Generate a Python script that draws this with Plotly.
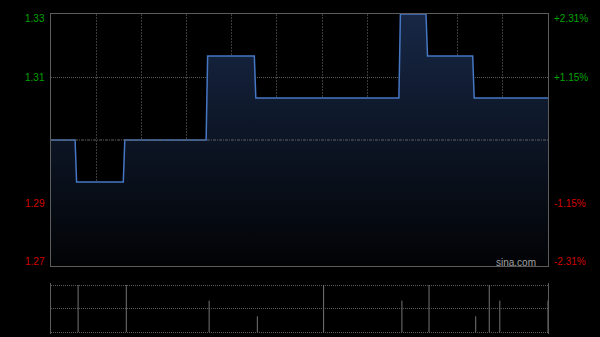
import plotly.graph_objects as go

# ---- data ----
prev_close = 1.30
session_minutes = 330
trade_min = [18, 50, 105, 137, 181, 233, 251, 282, 291, 298, 330]
trade_price = [1.29, 1.30, 1.32, 1.31, 1.31, 1.33, 1.32, 1.31, 1.31, 1.31, 1.31]
trade_vol = [30, 30, 20, 10, 30, 20, 30, 10, 30, 20, 20]
left_tick_text = ["1.33", "1.31", "1.29", "1.27"]
right_tick_text = ["+2.31%", "+1.15%", "-1.15%", "-2.31%"]
tick_colors = ["#00a400", "#00a400", "#d40000", "#d40000"]

# build price line (step with one-minute transition)
px, py = [0], [prev_close]
cur = prev_close
for t, p in zip(trade_min, trade_price):
    if p != cur:
        px += [t - 2, t - 1]
        py += [cur, p]
        cur = p
px.append(session_minutes)
py.append(cur)

vx, vy = [], []
for t, v in zip(trade_min, trade_vol):
    vx += [t, t, None]
    vy += [0, v, None]

fig = go.Figure()
fig.add_trace(go.Scatter(
    x=px, y=py, mode="lines", line=dict(color="#4677c4", width=1.5),
    fill="tozeroy",
    fillgradient=dict(type="vertical", start=1.27, stop=1.33,
                      colorscale=[[0, "#020305"], [1, "#172745"]]),
    hoverinfo="skip", xaxis="x", yaxis="y"))
fig.add_trace(go.Scatter(
    x=[0, session_minutes], y=[prev_close, prev_close], mode="lines",
    line=dict(color="#606060", width=1, dash="3px,1px,1px,1px"), hoverinfo="skip",
    xaxis="x", yaxis="y"))
fig.add_trace(go.Scatter(
    x=vx, y=vy, mode="lines", line=dict(color="#747474", width=1),
    hoverinfo="skip", xaxis="x2", yaxis="y2"))

W, H = 600, 337
x0, x1 = 51 / W, 548 / W
main_dom = [1 - 266 / H, 1 - 14 / H]
vol_top_px, vol_bot_px, pad_px = 285, 332, 2
vol_dom = [1 - (vol_bot_px + pad_px) / H, 1 - (vol_top_px - pad_px) / H]
vmax = 30
upp = vmax / (vol_bot_px - vol_top_px)
vol_range = [-pad_px * upp, vmax + pad_px * upp]

ann = []
left_y = [19, 77, 203, 261]
for yy, t, c in zip(left_y, left_tick_text, tick_colors):
    ann.append(dict(x=47 / W, y=1 - yy / H, xref="paper", yref="paper", text=t,
                    showarrow=False, xanchor="right", yanchor="middle",
                    font=dict(family="Liberation Sans", size=10, color=c)))
for yy, t, c in zip(left_y, right_tick_text, tick_colors):
    ann.append(dict(x=552 / W, y=1 - yy / H, xref="paper", yref="paper", text=t,
                    showarrow=False, xanchor="left", yanchor="middle",
                    font=dict(family="Liberation Sans", size=10, color=c)))
ann.append(dict(x=538 / W, y=1 - 262 / H, xref="paper", yref="paper", text="sina.com",
                showarrow=False, xanchor="right", yanchor="middle",
                font=dict(family="Liberation Sans", size=10, color="#a0a0a0")))

fig.update_layout(
    width=W, height=H, margin=dict(l=0, r=0, t=0, b=0),
    paper_bgcolor="#000000", plot_bgcolor="#000000", showlegend=False,
    annotations=ann,
    xaxis=dict(domain=[x0, x1], range=[0, session_minutes], dtick=30, tick0=0,
               showgrid=True, gridcolor="#3a3a3a", griddash="2px,1px", gridwidth=1,
               showticklabels=False, ticks="", zeroline=False,
               showline=True, linecolor="#5c5c5c", linewidth=1, mirror=True),
    yaxis=dict(domain=main_dom, range=[1.27, 1.33], tickvals=[1.285, 1.315],
               showgrid=True, gridcolor="#5a5a5a", griddash="1px,1px", gridwidth=1,
               showticklabels=False, ticks="", zeroline=False,
               showline=True, linecolor="#5c5c5c", linewidth=1, mirror=True),
    xaxis2=dict(domain=[x0, x1], range=[0, session_minutes], anchor="y2",
                showgrid=False, showticklabels=False, ticks="", zeroline=False,
                showline=False),
    yaxis2=dict(domain=vol_dom, range=vol_range, tickvals=[0, vmax / 2, vmax], anchor="x2",
                showgrid=True, gridcolor="#5a5a5a", griddash="1px,1px", gridwidth=1,
                showticklabels=False, ticks="", zeroline=False,
                showline=True, linecolor="#5c5c5c", linewidth=1, mirror=True),
)

fig.write_html("out.html")
